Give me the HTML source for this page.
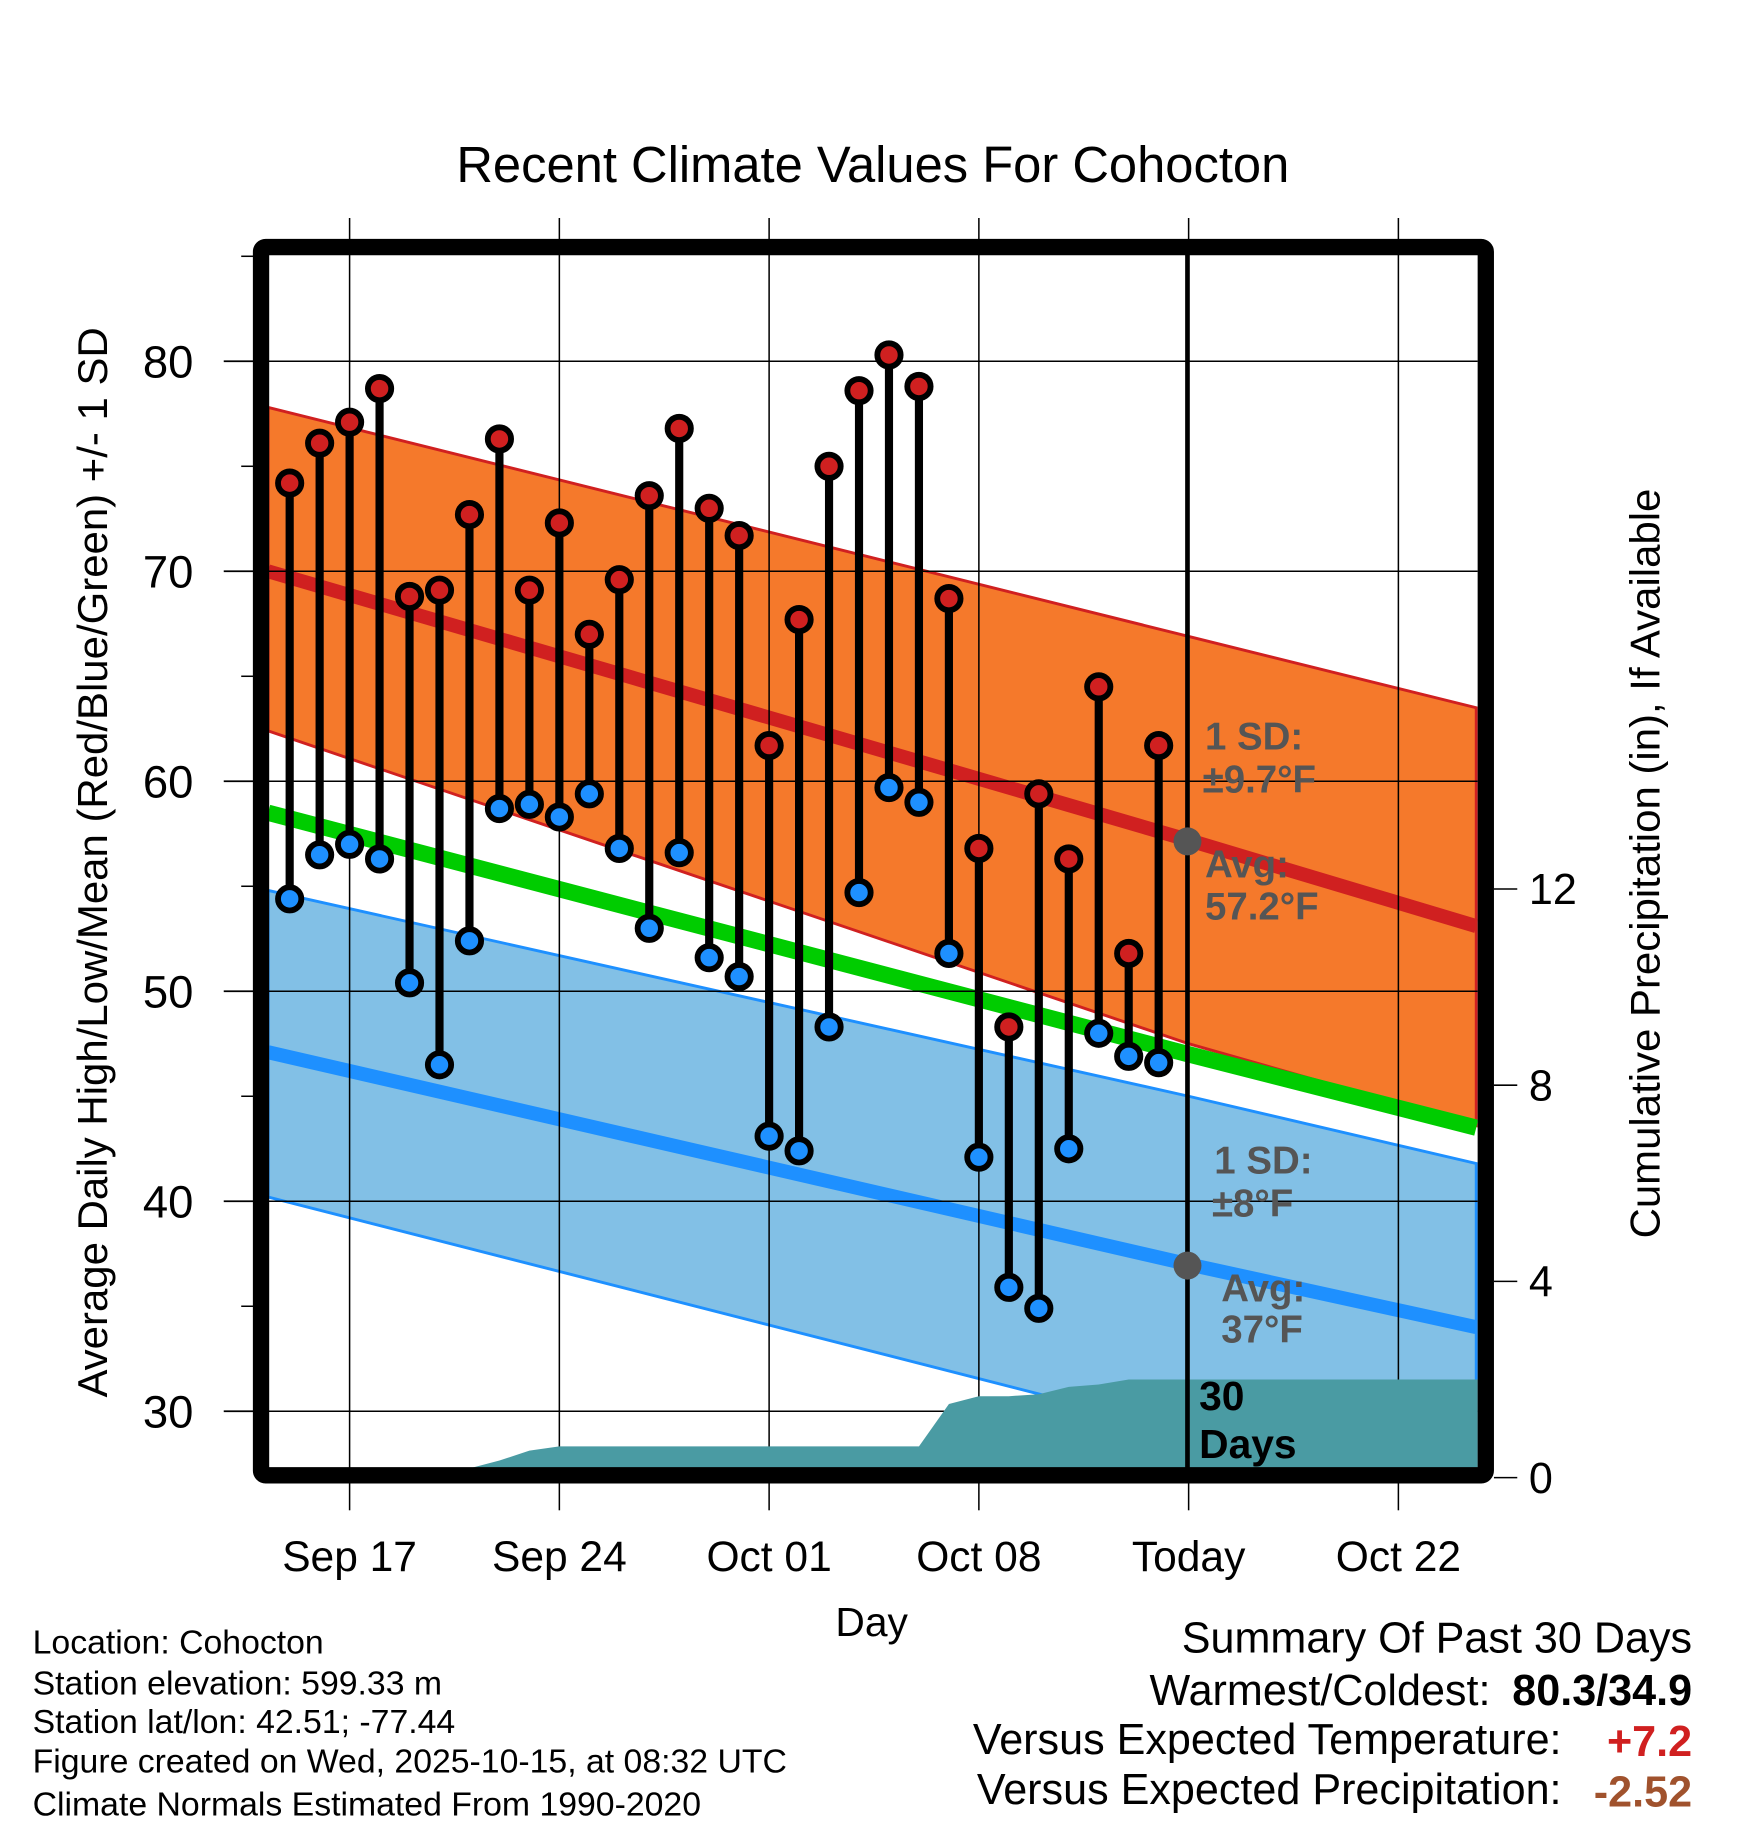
<!DOCTYPE html>
<html><head><meta charset="utf-8"><style>html,body{margin:0;padding:0;background:#fff}svg{display:block}text{font-family:"Liberation Sans",sans-serif}</style></head>
<body>
<svg id="chart" width="1748" height="1828" viewBox="0 0 1500 1568.6" xmlns="http://www.w3.org/2000/svg">
<text x="749" y="156" font-size="43.5" text-anchor="middle">Recent Climate Values For Cohocton</text>
<g id="bands"></g>
<g id="grid"></g>
<g id="precip"></g>
<g id="marks"></g>
<g id="annot">
<line x1="1019" y1="218" x2="1019" y2="1262" stroke="#000" stroke-width="4"/>
<circle cx="1019" cy="722" r="12" fill="#555"/>
<circle cx="1019" cy="1086" r="12" fill="#555"/>
<g font-weight="bold" font-size="33" fill="#555">
<text x="1034" y="643">1 SD:</text>
<text x="1032" y="680">±9.7°F</text>
<text x="1034" y="753">Avg:</text>
<text x="1034" y="789">57.2°F</text>
<text x="1042" y="1007">1 SD:</text>
<text x="1040" y="1044">±8°F</text>
<text x="1048" y="1117">Avg:</text>
<text x="1048" y="1152">37°F</text>
</g>
<text x="1029" y="1210" font-size="35" font-weight="bold">30</text>
<text x="1029" y="1251" font-size="35" font-weight="bold">Days</text>
</g>
<rect x="224" y="212" width="1051" height="1054" fill="none" stroke="#000" stroke-width="14" rx="4"/>
<g id="axes"></g>
<text transform="translate(92,740) rotate(-90)" font-size="36" text-anchor="middle">Average Daily High/Low/Mean (Red/Blue/Green) +/- 1 SD</text>
<text transform="translate(1424,741) rotate(-90)" font-size="36" text-anchor="middle">Cumulative Precipitation (in), If Available</text>
<text x="748" y="1404" font-size="35" text-anchor="middle">Day</text>
<g font-size="29">
<text x="28" y="1419">Location: Cohocton</text>
<text x="28" y="1454">Station elevation: 599.33 m</text>
<text x="28" y="1487">Station lat/lon: 42.51; -77.44</text>
<text x="28" y="1521">Figure created on Wed, 2025-10-15, at 08:32 UTC</text>
<text x="28" y="1558">Climate Normals Estimated From 1990-2020</text>
</g>
<g font-size="37">
<text x="1452" y="1418" text-anchor="end">Summary Of Past 30 Days</text>
<text x="1279" y="1463" text-anchor="end">Warmest/Coldest:</text>
<text x="1452" y="1463" text-anchor="end" font-weight="bold">80.3/34.9</text>
<text x="1340" y="1505" text-anchor="end">Versus Expected Temperature:</text>
<text x="1452" y="1507" text-anchor="end" font-weight="bold" fill="#d02020">+7.2</text>
<text x="1340" y="1548" text-anchor="end">Versus Expected Precipitation:</text>
<text x="1452" y="1550" text-anchor="end" font-weight="bold" fill="#a0522d">-2.52</text>
</g>
</svg>
<script>
const highs = [74.2,76.1,77.1,78.7,68.8,69.1,72.7,76.3,69.1,72.3,67.0,69.6,73.6,76.8,73.0,71.7,61.7,67.7,75.0,78.6,80.3,78.8,68.7,56.8,48.3,59.4,56.3,64.5,51.8,61.7];
const lows = [54.4,56.5,57.0,56.3,50.4,46.5,52.4,58.7,58.9,58.3,59.4,56.8,53.0,56.6,51.6,50.7,43.1,42.4,48.3,54.7,59.7,59.0,51.8,42.1,35.9,34.9,42.5,48.0,46.9,46.6];
const precipCum = [0,0,0,0,0,0,0.04,0.35,0.55,0.64,0.64,0.64,0.64,0.64,0.64,0.64,0.64,0.64,0.64,0.64,0.64,0.64,1.5,1.66,1.66,1.7,1.85,1.9,2.0,2.0];
const normDays = [-2.72, 28, 37.6];
const highUpper = [77.8, 66.9, 63.5];
const highMean = [70.0, 57.2, 53.1];
const highLower = [62.4, 47.5, 43.6];
const meanMean = [58.5, 47.0, 43.5];
const lowUpper = [54.8, 45.0, 41.8];
const lowMean = [47.1, 37.0, 34.0];
const lowLower = [40.2, 29.0, 26.0];
const xTickDays = [0,7,14,21,28,35];
const xTickLabels = ["Sep 17","Sep 24","Oct 01","Oct 08","Today","Oct 22"];
const yTicks = [30,40,50,60,70,80];
const y2Ticks = [0,4,8,12];
const firstDay = -2;

const NS="http://www.w3.org/2000/svg";
const X0=230,X1=1268,Y0=218,Y1=1260;
function x(d){return 300+d*25.714;}
function y(v){return 310+(80-v)*18.02;}
function y2(p){return 1268-p*42.1;}
function mk(tag,attrs,parent){const e=document.createElementNS(NS,tag);for(const k in attrs)e.setAttribute(k,attrs[k]);parent.appendChild(e);return e;}
const bands=document.getElementById('bands');
const grid=document.getElementById('grid');
const prec=document.getElementById('precip');
const marks=document.getElementById('marks');
const axes=document.getElementById('axes');
function pts(arr){return normDays.map((d,i)=>x(d).toFixed(1)+','+y(arr[i]).toFixed(1));}
function band(up,lo,fill,edge,name){
  const p=mk('polygon',{points:pts(up).concat(pts(lo).reverse()).join(' '),fill:fill,stroke:edge,'stroke-width':2.5},bands);
  
  
}
function line(arr,color,w,name){
  const l=mk('polyline',{points:pts(arr).join(' '),fill:'none',stroke:color,'stroke-width':w},bands);
  
  
}
const cp=mk('clipPath',{id:'pc'},document.getElementById('chart'));
mk('rect',{x:X0,y:Y0,width:X1-X0,height:Y1-Y0},cp);
bands.setAttribute('clip-path','url(#pc)');
band(lowUpper,lowLower,'#82c0e6','#1e90ff','low-sd-band');
band(highUpper,highLower,'#f5792b','#d02020','high-sd-band');
line(highMean,'#d02020',12,'high-mean-line');
line(meanMean,'#00cc00',14,'mean-line');
line(lowMean,'#1e90ff',12,'low-mean-line');
xTickDays.forEach((d,i)=>{
  const g=mk('line',{x1:x(d),y1:187,x2:x(d),y2:Y1,stroke:'#000','stroke-width':1.3},grid);
  
  
  const t=mk('line',{x1:x(d),y1:1272,x2:x(d),y2:1296,stroke:'#000','stroke-width':1.3},axes);
  
  
  const lb=mk('text',{x:x(d),y:1348,'font-size':36.5,'text-anchor':'middle'},axes);
  lb.textContent=xTickLabels[i];
  
  
});
yTicks.forEach(v=>{
  const g=mk('line',{x1:X0,y1:y(v),x2:X1,y2:y(v),stroke:'#000','stroke-width':1.3},grid);
  
  
  const t=mk('line',{x1:192,y1:y(v),x2:218,y2:y(v),stroke:'#000','stroke-width':1.5},axes);
  
  
  const lb=mk('text',{x:166,y:y(v)+14,'font-size':39,'text-anchor':'end'},axes);
  lb.textContent=v;
  
  
});
[35,45,55,65,75,85].forEach(v=>{
  const t=mk('line',{x1:207,y1:y(v),x2:218,y2:y(v),stroke:'#000','stroke-width':1.3},axes);
  
  
});
y2Ticks.forEach(p=>{
  const t=mk('line',{x1:1282,y1:y2(p),x2:1302,y2:y2(p),stroke:'#000','stroke-width':1.3},axes);
  
  
  const lb=mk('text',{x:1312,y:y2(p)+13,'font-size':37},axes);
  lb.textContent=p;
  
  
});
let pp=[X0+','+Y1];
precipCum.forEach((p,i)=>{pp.push(x(firstDay+i).toFixed(1)+','+Math.min(Y1,y2(p)).toFixed(1));});
pp.push(X1+','+y2(precipCum[precipCum.length-1]).toFixed(1));
pp.push(X1+','+Y1);
const area=mk('polygon',{points:pp.join(' '),fill:'#4a9ba3'},prec);


highs.forEach((h,i)=>{
  const cx=x(firstDay+i);
  const s=mk('line',{x1:cx,y1:y(h),x2:cx,y2:y(lows[i]),stroke:'#000','stroke-width':7},marks);
  
  
});
highs.forEach((h,i)=>{
  const cx=x(firstDay+i);
  const a=mk('circle',{cx:cx,cy:y(h),r:10,fill:'#d02020',stroke:'#000','stroke-width':5},marks);
  
  
  const b=mk('circle',{cx:cx,cy:y(lows[i]),r:10,fill:'#1e90ff',stroke:'#000','stroke-width':5},marks);
  
  
});
</script>
</body></html>
